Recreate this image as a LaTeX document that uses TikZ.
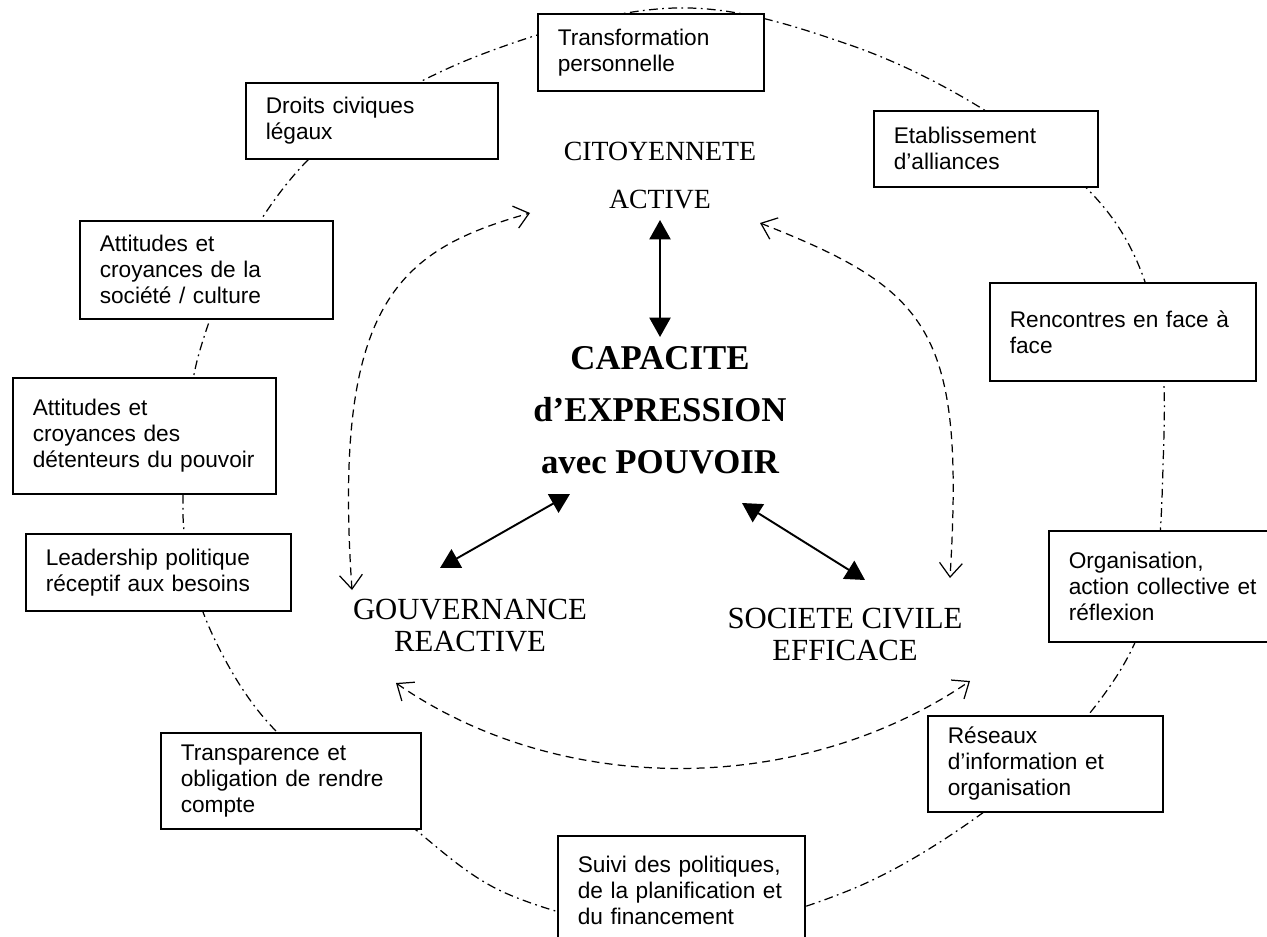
\documentclass[tikz,border=0pt]{standalone}
\usepackage{fontspec}
\setmainfont{Liberation Serif}
\newfontfamily\boxfont{Liberation Sans}
\usetikzlibrary{arrows.meta}

\begin{document}
\begin{tikzpicture}[x=0.02cm, y=-0.02cm,
    box/.style={draw, line width=0.9pt, fill=white, anchor=north west, align=left,
      inner xsep=0.4cm, inner ysep=0pt, font=\boxfont\fontsize{12.9}{14.8}\selectfont},
    ring/.style={line width=0.7pt, dash pattern=on 5pt off 2.5pt on 1pt off 2.5pt},
    pole/.style={align=center, inner sep=0pt, font=\fontsize{17.5}{18.2}\selectfont},
    link/.style={{Triangle[length=11pt,width=12pt]}-{Triangle[length=11pt,width=12pt]}, line width=1.1pt},
    swing/.style={{Straight Barb[length=8pt,width=13pt]}-{Straight Barb[length=8pt,width=13pt]},
      line width=0.7pt, dash pattern=on 4.5pt off 3pt}]
\useasboundingbox (0,0) rectangle (1267,936);

% the ring behind the boxes
\draw[ring] plot[smooth cycle, tension=0.6] coordinates {
    (675,8) (850,45) (1000,120) (1110,215) (1158,330) (1163,467) (1150,600)
    (1100,700) (1000,800) (850,890) (680,930) (510,895) (390,810) (280,735)
    (215,640) (185,540) (187,440) (200,350) (245,245) (330,140) (480,55)};

% boxes round the ring
\node[box, text width=3.72cm, minimum height=1.54cm] (trans) at (537,13) {Transformation\\personnelle};
\node[box, text width=4.24cm, minimum height=1.52cm] (droits) at (245,82) {Droits civiques\\légaux};
\node[box, text width=3.68cm, minimum height=1.52cm] (etab) at (873,110) {Etablissement\\d’alliances};
\node[box, text width=4.26cm, minimum height=1.96cm] (attsoc) at (79,220) {Attitudes et\\croyances de la\\société / culture};
\node[box, text width=4.52cm, minimum height=1.96cm] (renc) at (989,282) {Rencontres en face à\\face};
\node[box, text width=4.46cm, minimum height=2.32cm] (attdet) at (12,377) {Attitudes et\\croyances des\\détenteurs du pouvoir};
\node[box, text width=4.5cm, minimum height=1.54cm] (lead) at (25,533) {Leadership politique\\réceptif aux besoins};
\node[box, text width=3.8cm, minimum height=2.22cm] (orga) at (1048,530) {Organisation,\\action collective et\\réflexion};
\node[box, text width=3.9cm, minimum height=1.92cm] (reseaux) at (927,715) {Réseaux\\d’information et\\organisation};
\node[box, text width=4.4cm, minimum height=1.92cm] (transp) at (160,732) {Transparence et\\obligation de rendre\\compte};
\node[box, text width=4.14cm, minimum height=2.2cm] (suivi) at (557,835) {Suivi des politiques,\\de la planification et\\du financement};

% the three poles and the centre
\node[pole, font=\fontsize{15.8}{27.3}\selectfont] (citoy) at (660,176) {CITOYENNETE\\ACTIVE};
\node[pole, font=\bfseries\fontsize{19.8}{29.6}\selectfont] (capa) at (660,410) {CAPACITE\\d’EXPRESSION\\avec POUVOIR};
\node[pole] (gouv) at (470,626) {GOUVERNANCE\\REACTIVE};
\node[pole] (soc) at (845,634) {SOCIETE CIVILE\\EFFICACE};

% ends of the links
\coordinate (ct-s) at (660,220);
\coordinate (cp-n) at (660,337);
\coordinate (cp-sw) at (570,494);
\coordinate (gv-ne) at (440,568);
\coordinate (cp-se) at (742,503);
\coordinate (sc-nw) at (865,580);
\coordinate (ct-w) at (530,213);
\coordinate (gv-n) at (352,590);
\coordinate (ct-e) at (760,223);
\coordinate (sc-n) at (950,578);
\coordinate (gv-s) at (396,683);
\coordinate (sc-s) at (970,681);

\draw[link] (ct-s) -- (cp-n);
\draw[link] (gv-ne) -- (cp-sw);
\draw[link] (cp-se) -- (sc-nw);

\draw[swing] (gv-n) .. controls (332,300) and (400,250) .. (ct-w);
\draw[swing] (ct-e) .. controls (930,290) and (965,330) .. (sc-n);
\draw[swing] (gv-s) .. controls (560,797) and (800,797) .. (sc-s);
\end{tikzpicture}
\end{document}
